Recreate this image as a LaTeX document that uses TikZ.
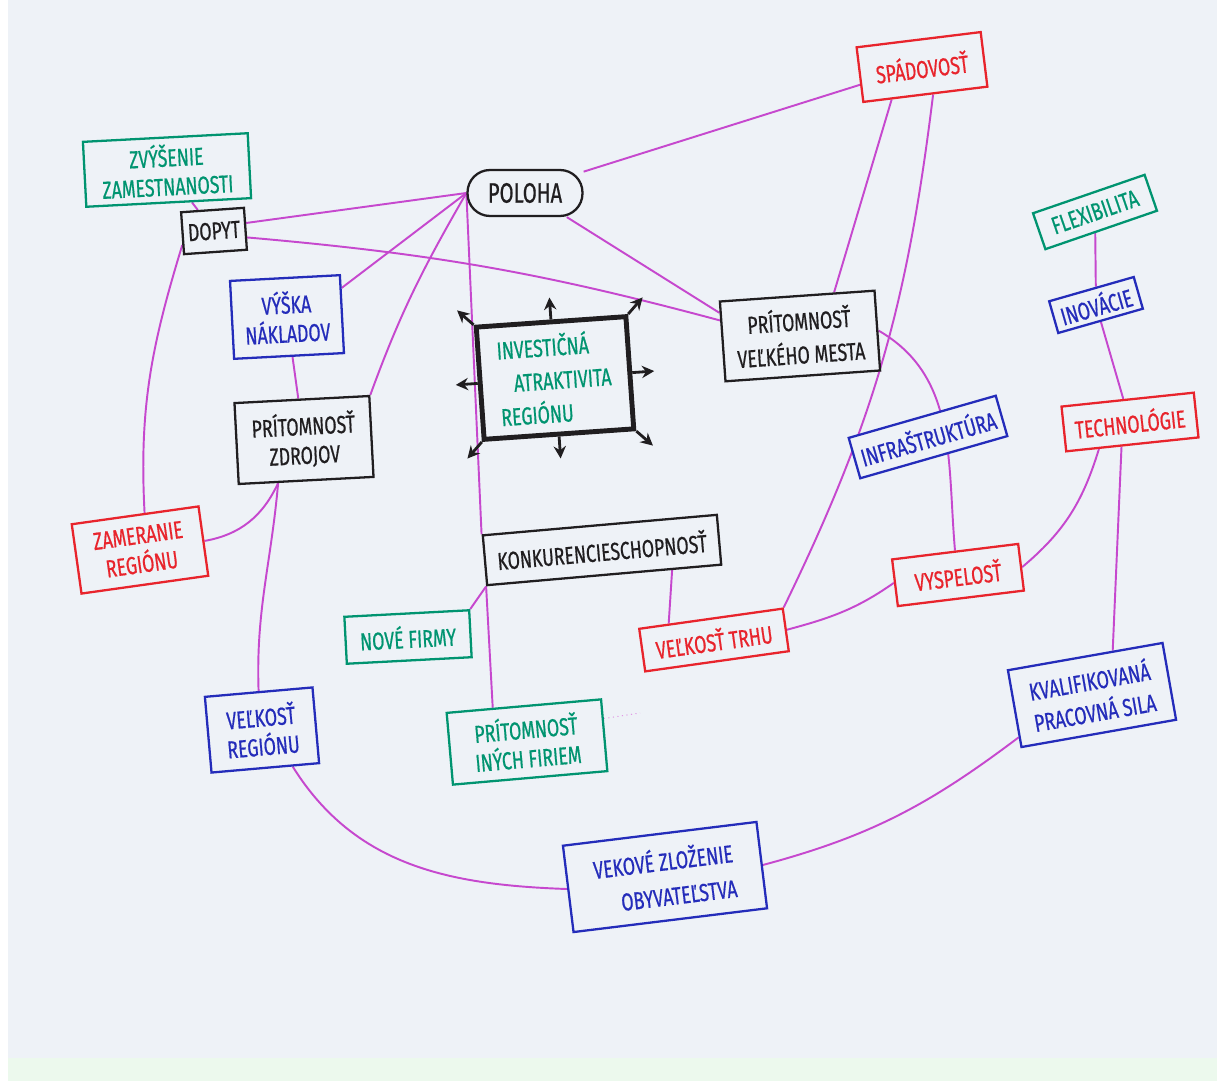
\documentclass[tikz,border=0pt]{standalone}
\usepackage{fontspec}
\setmainfont{Fira Sans}[FakeStretch=0.72, FakeBold=0.6]
\usepackage{xcolor}
\usetikzlibrary{arrows.meta}

\definecolor{paper}{RGB}{238,242,247}
\definecolor{papergreen}{RGB}{236,249,237}
\definecolor{mint}{RGB}{0,148,112}
\definecolor{pen}{RGB}{36,44,186}
\definecolor{marker}{RGB}{232,36,44}
\definecolor{ink}{RGB}{32,30,32}
\definecolor{linkpink}{RGB}{198,72,206}

\pgfdeclarelayer{paperlayer}
\pgfdeclarelayer{linklayer}
\pgfsetlayers{paperlayer,linklayer,main}

\tikzset{
  box/.style={draw, fill=paper, line width=1.3pt, align=center, inner sep=2pt,
    font=\fontsize{14}{16.5}\selectfont},
  greenbox/.style={box, draw=mint, text=mint},
  bluebox/.style={box, draw=pen, text=pen},
  redbox/.style={box, draw=marker, text=marker},
  blackbox/.style={box, draw=ink, text=ink},
  link/.style={draw=linkpink, line width=1.1pt},
  faint/.style={draw=linkpink!55, line width=0.6pt, dotted},
  outarrow/.style={draw=ink, line width=1.6pt, -{Stealth[length=7pt,width=7pt]}},
}

\begin{document}
\begin{tikzpicture}[x=0.02cm, y=0.02cm]
  \useasboundingbox (0,0) rectangle (1217,-1081);
  \begin{pgfonlayer}{paperlayer}
    \fill[white] (0,0) rectangle (1217,-1081);
    \fill[paper] (8,0) rectangle (1217,-1058);
    \fill[papergreen] (8,-1058) rectangle (1217,-1081);
  \end{pgfonlayer}

  % nodes
  \node[greenbox, rotate=3, minimum width=3.3cm, minimum height=1.3cm] (zvys) at (167,-170) {ZVÝŠENIE\\ZAMESTNANOSTI} ; %
  \node[blackbox, rotate=4, minimum width=1.26cm, minimum height=0.84cm] (dopyt) at (214,-231) {DOPYT} ; %
  \node[blackbox, rounded corners=0.45cm, minimum width=2.3cm, minimum height=0.92cm,
        font=\fontsize{16}{18}\selectfont] (poloha) at (525,-193) {POLOHA} ; %
  \node[redbox, rotate=7, minimum width=2.5cm, minimum height=1.1cm] (spad) at (922,-67) {SPÁDOVOSŤ} ; %
  \node[bluebox, rotate=3, minimum width=2.2cm, minimum height=1.56cm] (vyska) at (287,-317) {VÝŠKA\\NÁKLADOV} ; %
  \node[blackbox, rotate=3, minimum width=2.7cm, minimum height=1.62cm] (zdroje) at (304,-440) {PRÍTOMNOSŤ\\ZDROJOV} ; %
  \node[greenbox, draw=ink, line width=2.8pt, rotate=4, align=left, minimum width=3.0cm, minimum height=2.25cm,
        font=\fontsize{14}{19}\selectfont] (inv) at (555,-378) {INVESTIČNÁ\\\hspace{0.3cm}ATRAKTIVITA\\REGIÓNU} ; %
  \node[blackbox, rotate=4, minimum width=3.1cm, minimum height=1.6cm,
        font=\fontsize{14}{19}\selectfont] (mesto) at (800,-336) {PRÍTOMNOSŤ\\VEĽKÉHO MESTA} ; %
  \node[bluebox, rotate=16, minimum width=3.06cm, minimum height=0.84cm] (infra) at (928,-437) {INFRAŠTRUKTÚRA} ; %
  \node[greenbox, rotate=19, minimum width=2.36cm, minimum height=0.76cm] (flex) at (1095,-212) {FLEXIBILITA} ; %
  \node[bluebox, rotate=16, minimum width=1.76cm, minimum height=0.66cm] (ino) at (1096,-305) {INOVÁCIE} ; %
  \node[redbox, rotate=6, minimum width=2.66cm, minimum height=0.9cm] (tech) at (1130,-422) {TECHNOLÓGIE} ; %
  \node[redbox, rotate=8, minimum width=2.56cm, minimum height=1.4cm] (zam) at (140,-550) {ZAMERANIE\\REGIÓNU} ; %
  \node[blackbox, rotate=5, minimum width=4.7cm, minimum height=1.0cm] (konk) at (602,-550) {KONKURENCIESCHOPNOSŤ} ; %
  \node[redbox, rotate=7, minimum width=2.54cm, minimum height=0.94cm] (vysp) at (958,-575) {VYSPELOSŤ} ; %
  \node[greenbox, rotate=3, minimum width=2.5cm, minimum height=0.94cm] (nove) at (408,-637) {NOVÉ FIRMY} ; %
  \node[redbox, rotate=8, minimum width=2.9cm, minimum height=0.86cm] (trh) at (714,-640) {VEĽKOSŤ TRHU} ; %
  \node[greenbox, rotate=5, minimum width=3.1cm, minimum height=1.44cm] (inych) at (527,-742) {PRÍTOMNOSŤ\\INÝCH FIRIEM} ; %
  \node[bluebox, rotate=10, minimum width=3.14cm, minimum height=1.56cm,
        font=\fontsize{14}{18}\selectfont] (kval) at (1092,-695) {KVALIFIKOVANÁ\\PRACOVNÁ SILA} ; %
  \node[bluebox, rotate=5, minimum width=2.16cm, minimum height=1.52cm] (vreg) at (262,-730) {VEĽKOSŤ\\REGIÓNU} ; %
  \node[bluebox, rotate=7, align=right, minimum width=3.9cm, minimum height=1.74cm,
        font=\fontsize{14}{20}\selectfont] (vek) at (665,-877) {VEKOVÉ ZLOŽENIE\\OBYVATEĽSTVA} ; %
  \coordinate (stray) at (640,-713) ; %

  % arrows round the central box
  \foreach \a/\d in {north/94, north east/49, east/4, south east/-41,
                     south/-86, south west/-131, west/184, north west/139}
    \draw[outarrow] (inv.\a) -- ++(\d:22) ; %

  % links
  \begin{pgfonlayer}{linklayer}
  \draw[link] (zvys) -- (dopyt) ; %
  \draw[link] (dopyt.-160) to[out=-107,in=93] (zam.75) ; %
  \draw[link] (dopyt.10) -- (poloha.west) ; %
  \draw[link] (dopyt.-15) to[out=-5,in=165] (mesto.165) ; %
  \draw[link] (poloha.20) -- (spad.189) ; %
  \draw[link] (poloha.-30) -- (mesto.160) ; %
  \draw[link] (poloha.west) -- (vyska.25) ; %
  \draw[link] (poloha.west) to[out=-120,in=70] (zdroje.north east) ; %
  \draw[link] (poloha.west) -- (konk.north west) ; %
  \draw[link] (spad.-140) -- (mesto.48) ; %
  \draw[link] (spad.-75) to[out=-97,in=64] (trh.north east) ; %
  \draw[link] (mesto.east) to[out=-30,in=95] (vysp.north) ; %
  \draw[link] (trh.east) to[out=15,in=-145] (vysp.west) ; %
  \draw[link] (vysp.east) to[out=40,in=-107] (tech.-145) ; %
  \draw[link] (ino) -- (tech) ; %
  \draw[link] (flex) -- (ino) ; %
  \draw[link] (tech.-115) -- (kval.55) ; %
  \draw[link] (kval.-160) to[out=-143,in=15] (vek.east) ; %
  \draw[link] (vek.west) to[out=178,in=-58] (vreg.-55) ; %
  \draw[link] (zdroje.-124) to[out=-95,in=92] (vreg.north) ; %
  \draw[link] (zdroje.-124) to[out=-115,in=10] (zam.east) ; %
  \draw[link] (vyska) -- (zdroje) ; %
  \draw[link] (konk.south west) -- (nove.north east) ; %
  \draw[link] (konk.south west) -- (inych.130) ; %
  \draw[link] (konk.-21) -- (trh.152) ; %
  \draw[faint] (inych.12) -- (stray) ; %
  \end{pgfonlayer}
\end{tikzpicture}
\end{document}
